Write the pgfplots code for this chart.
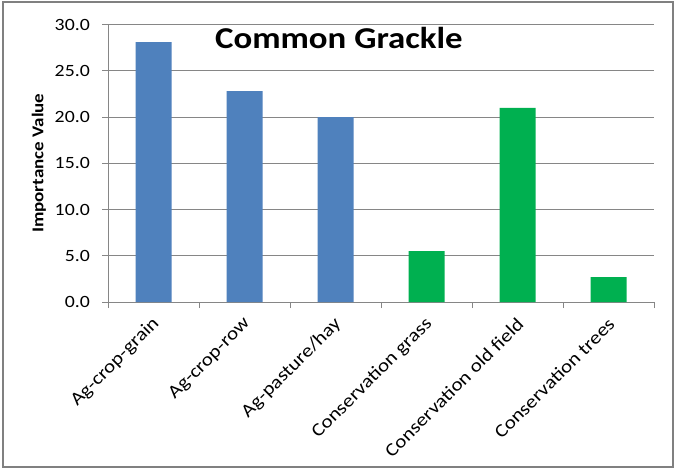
\documentclass[border=0pt]{standalone}
\usepackage{pgfplots}
\pgfplotsset{compat=1.18}
\usepackage{fontspec}
\setmainfont{Carlito}[FakeStretch=1.15]

\definecolor{barblue}{HTML}{4F81BD}
\definecolor{bargreen}{HTML}{00B050}
\definecolor{gridgray}{HTML}{868686}
\definecolor{framegray}{HTML}{808080}

\begin{document}
\begin{tikzpicture}
  % canvas and outer frame
  \useasboundingbox (0pt,0pt) rectangle (676pt,469pt);
  \fill[white] (0pt,0pt) rectangle (676pt,469pt);
  \draw[framegray, line width=2pt] (2.5pt,2pt) rectangle (673pt,466.5pt);

  \begin{axis}[
    at={(108pt,167pt)}, anchor=south west,
    scale only axis,
    width=546pt, height=277.5pt,
    xmin=-0.5, xmax=5.5,
    ymin=0, ymax=30,
    axis lines=left,
    axis line style={-, gridgray, line width=1pt},
    ytick={0,5,...,30},
    ymajorgrids,
    grid style={gridgray, line width=1pt},
    major tick length=6pt,
    tick align=outside,
    tick style={gridgray, line width=1pt},
    xtick={-0.5,0.5,...,5.5},
    xticklabels={},
    extra x ticks={0,1,2,3,4,5},
    extra x tick labels={Ag-crop-grain,Ag-crop-row,Ag-pasture/hay,Conservation grass,Conservation old field,Conservation trees},
    extra x tick style={major tick length=0pt,
      xticklabel style={xshift=3pt, yshift=-19pt, rotate=45, anchor=east, inner sep=0pt}},
    xticklabel style={font=\fontsize{18.4}{20}\selectfont},
    yticklabel style={font=\fontsize{17.2}{20}\selectfont, inner sep=0pt, xshift=-12pt},
    /pgf/number format/assume math mode=true,
    yticklabel={\pgfmathprintnumber[fixed, fixed zerofill, precision=1]{\tick}},
    ylabel={Importance Value},
    ylabel style={font=\bfseries\fontsize{16.5}{20}\selectfont,
      at={(axis description cs:-0.1264,0.5)}, anchor=center, rotate=0},
    ybar, bar width=36pt, bar shift=0pt,
    clip=false,
  ]
    % agricultural habitats
    \addplot[fill=barblue, draw=none] coordinates {(0,28.1) (1,22.8) (2,20.0)};
    % conservation habitats
    \addplot[fill=bargreen, draw=none] coordinates {(3,5.5) (4,21.0) (5,2.7)};

    \node[anchor=base, font=\bfseries\fontsize{30.3}{34}\selectfont]
      at (axis description cs:0.423,0.915) {Common Grackle};
  \end{axis}
\end{tikzpicture}
\end{document}
